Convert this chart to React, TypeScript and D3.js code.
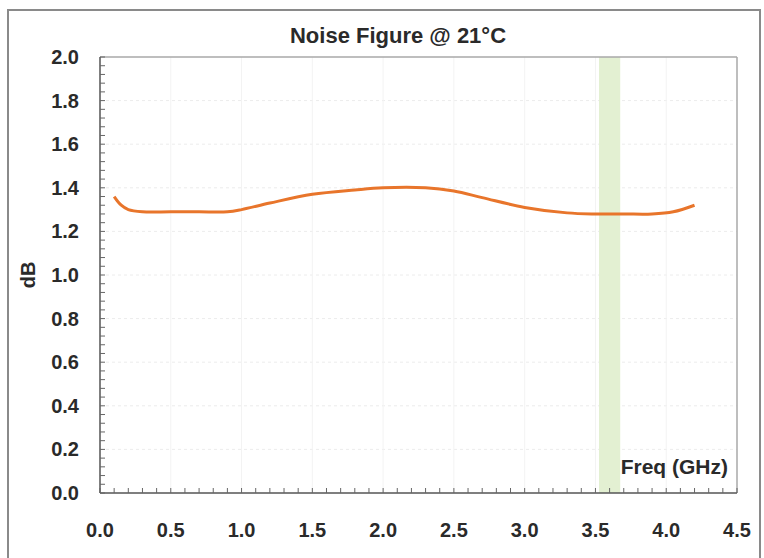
import React from "react";
import * as d3 from "d3";

const freqGHz = [0.1, 0.15, 0.2, 0.3, 0.5, 0.7, 0.9, 1.0, 1.2, 1.5, 1.8, 2.0, 2.3, 2.5, 2.7, 3.0, 3.3, 3.5, 3.7, 3.9, 4.05, 4.2];
const nfDb = [1.36, 1.32, 1.30, 1.29, 1.29, 1.29, 1.29, 1.30, 1.33, 1.37, 1.39, 1.40, 1.40, 1.385, 1.355, 1.31, 1.285, 1.28, 1.28, 1.28, 1.29, 1.32];
const xTicks = [0, 0.5, 1.0, 1.5, 2.0, 2.5, 3.0, 3.5, 4.0, 4.5];
const yTicks = [0, 0.2, 0.4, 0.6, 0.8, 1.0, 1.2, 1.4, 1.6, 1.8, 2.0];
const band = [3.525, 3.675];

export default function App() {
  const W = 764, H = 558;
  const x = d3.scaleLinear().domain([0, 4.5]).range([100, 737]);
  const y = d3.scaleLinear().domain([0, 2]).range([493, 57]);
  const pts = freqGHz.map((f, i) => [f, nfDb[i]] as [number, number]);
  const line = d3.line<[number, number]>().x(d => x(d[0])).y(d => y(d[1])).curve(d3.curveCatmullRom.alpha(0.5));
  const xMinor = d3.range(0, 4.5001, 0.1);
  const yMinor = d3.range(0, 2.0001, 0.04);
  const font = "'Liberation Sans', Arial, sans-serif";
  const left = 100, right = 737, top = 57, bottom = 493;
  const txt = "#2a2a2a";
  return (
    <svg width={W} height={H} style={{ position: "absolute", left: 0, top: 0, background: "#fff" }}>
      <rect x={8} y={10} width={752} height={560} fill="#fff" stroke="#8a8a8a" strokeWidth={2} />
      <text x={398} y={43} textAnchor="middle" fontFamily={font} fontWeight="bold" fontSize={22} fill={txt}>Noise Figure @ 21°C</text>
      {yTicks.slice(1, -1).map(t => (
        <line key={"gy" + t} x1={left} x2={right} y1={y(t)} y2={y(t)} stroke="#ececec" strokeWidth={1} strokeDasharray="3,3" />
      ))}
      {xTicks.slice(1, -1).map(t => (
        <line key={"gx" + t} x1={x(t)} x2={x(t)} y1={top} y2={bottom} stroke="#f3f3f3" strokeWidth={1} />
      ))}
      <rect x={x(band[0])} y={top} width={x(band[1]) - x(band[0])} height={bottom - top} fill="#e3f0d2" />
      <line x1={left} x2={right} y1={top} y2={top} stroke="#a8a8a8" strokeWidth={1.5} />
      <line x1={right} x2={right} y1={top} y2={bottom} stroke="#a8a8a8" strokeWidth={1.5} />
      <line x1={left} x2={left} y1={top} y2={bottom} stroke="#555" strokeWidth={1.5} />
      <line x1={left} x2={right} y1={bottom} y2={bottom} stroke="#555" strokeWidth={1.5} />
      {yMinor.map(t => (
        <line key={"ym" + t} x1={left} x2={left + 5} y1={y(t)} y2={y(t)} stroke="#666" strokeWidth={1} />
      ))}
      {xMinor.map(t => (
        <line key={"xm" + t} x1={x(t)} x2={x(t)} y1={bottom} y2={bottom - 5} stroke="#666" strokeWidth={1} />
      ))}
      {yTicks.map(t => (
        <text key={"yl" + t} x={79} y={y(t) + 7} textAnchor="end" fontFamily={font} fontWeight="bold" fontSize={20} fill={txt}>{t.toFixed(1)}</text>
      ))}
      {xTicks.map(t => (
        <text key={"xl" + t} x={x(t)} y={537} textAnchor="middle" fontFamily={font} fontWeight="bold" fontSize={20} fill={txt}>{t.toFixed(1)}</text>
      ))}
      <text transform={`translate(35,275) rotate(-90)`} textAnchor="middle" fontFamily={font} fontWeight="bold" fontSize={20} fill={txt}>dB</text>
      <text x={728} y={474} textAnchor="end" fontFamily={font} fontWeight="bold" fontSize={21} fill={txt}>Freq (GHz)</text>
      <path d={line(pts) || ""} fill="none" stroke="#e8752b" strokeWidth={3} />
    </svg>
  );
}
